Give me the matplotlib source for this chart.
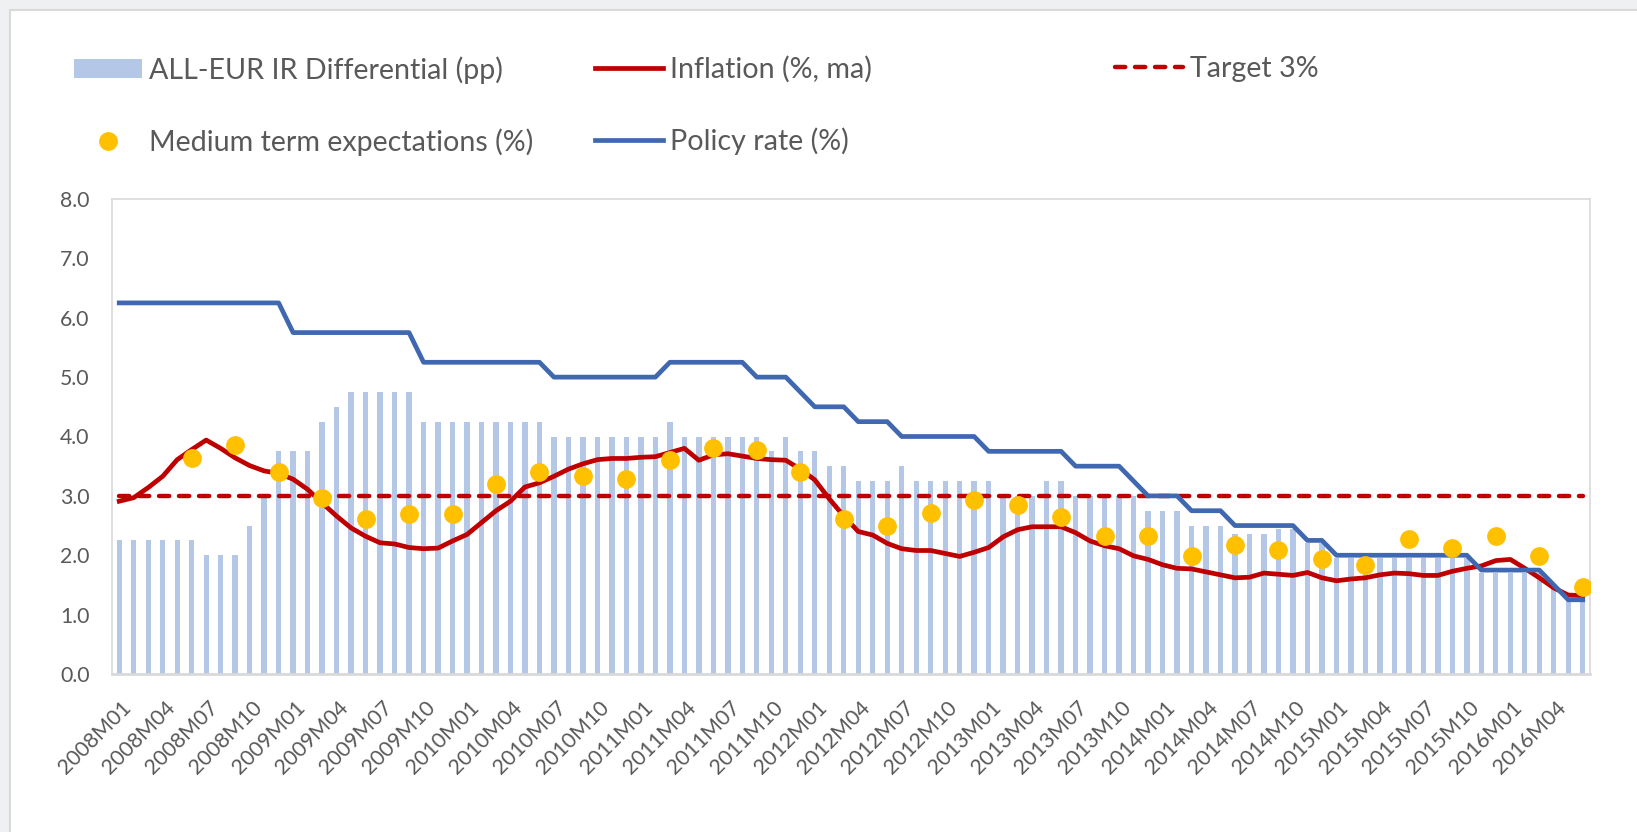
import numpy as np
import matplotlib.pyplot as plt
from matplotlib.patches import Patch, Rectangle
from matplotlib.lines import Line2D
from matplotlib.transforms import ScaledTranslation

plt.rcParams['font.family'] = ['Lato', 'DejaVu Sans']

# monthly categories 2008M01 .. 2016M06
months = [f'{y}M{m:02d}' for y in range(2008, 2017) for m in range(1, 13)][:102]

# ALL-EUR interest rate differential (pp), bars
ir_diff = [2.25, 2.25, 2.25, 2.25, 2.25, 2.25, 2.0, 2.0, 2.0, 2.5,
           3.0, 3.75, 3.75, 3.75, 4.25, 4.5, 4.75, 4.75, 4.75, 4.75,
           4.75, 4.25, 4.25, 4.25, 4.25, 4.25, 4.25, 4.25, 4.25, 4.25,
           4.0, 4.0, 4.0, 4.0, 4.0, 4.0, 4.0, 4.0, 4.25, 4.0,
           4.0, 4.0, 4.0, 4.0, 4.0, 3.75, 4.0, 3.75, 3.75, 3.5,
           3.5, 3.25, 3.25, 3.25, 3.5, 3.25, 3.25, 3.25, 3.25, 3.25,
           3.25, 3.0, 3.0, 3.0, 3.25, 3.25, 3.0, 3.0, 3.0, 3.0,
           3.0, 2.75, 2.75, 2.75, 2.5, 2.5, 2.5, 2.35, 2.35, 2.35,
           2.45, 2.45, 2.2, 2.2, 1.95, 1.95, 1.95, 1.95, 1.95, 1.95,
           1.95, 1.95, 1.95, 1.95, 1.7, 1.7, 1.7, 1.7, 1.7, 1.5,
           1.25, 1.25]

# inflation, moving average (%)
inflation = [2.91, 2.97, 3.14, 3.33, 3.61, 3.78, 3.94, 3.80, 3.64, 3.51,
             3.42, 3.38, 3.28, 3.11, 2.88, 2.66, 2.46, 2.32, 2.21, 2.19,
             2.13, 2.11, 2.12, 2.24, 2.35, 2.55, 2.75, 2.91, 3.15, 3.22,
             3.33, 3.45, 3.54, 3.61, 3.63, 3.63, 3.65, 3.66, 3.73, 3.80,
             3.60, 3.69, 3.71, 3.67, 3.63, 3.61, 3.60, 3.45, 3.27, 2.95,
             2.66, 2.40, 2.34, 2.20, 2.11, 2.08, 2.08, 2.03, 1.98, 2.05,
             2.13, 2.31, 2.43, 2.48, 2.48, 2.48, 2.38, 2.24, 2.16, 2.11,
             1.99, 1.93, 1.84, 1.78, 1.77, 1.72, 1.67, 1.62, 1.63, 1.70,
             1.68, 1.66, 1.71, 1.62, 1.57, 1.60, 1.62, 1.67, 1.70, 1.69,
             1.66, 1.66, 1.73, 1.78, 1.82, 1.91, 1.93, 1.78, 1.62, 1.45,
             1.33, 1.32]

# policy rate (%)
policy = [6.25, 6.25, 6.25, 6.25, 6.25, 6.25, 6.25, 6.25, 6.25, 6.25,
          6.25, 6.25, 5.75, 5.75, 5.75, 5.75, 5.75, 5.75, 5.75, 5.75,
          5.75, 5.25, 5.25, 5.25, 5.25, 5.25, 5.25, 5.25, 5.25, 5.25,
          5.0, 5.0, 5.0, 5.0, 5.0, 5.0, 5.0, 5.0, 5.25, 5.25,
          5.25, 5.25, 5.25, 5.25, 5.0, 5.0, 5.0, 4.75, 4.5, 4.5,
          4.5, 4.25, 4.25, 4.25, 4.0, 4.0, 4.0, 4.0, 4.0, 4.0,
          3.75, 3.75, 3.75, 3.75, 3.75, 3.75, 3.5, 3.5, 3.5, 3.5,
          3.25, 3.0, 3.0, 3.0, 2.75, 2.75, 2.75, 2.5, 2.5, 2.5,
          2.5, 2.5, 2.25, 2.25, 2.0, 2.0, 2.0, 2.0, 2.0, 2.0,
          2.0, 2.0, 2.0, 2.0, 1.75, 1.75, 1.75, 1.75, 1.75, 1.5,
          1.25, 1.25]

# medium term expectations (%), quarterly: 2008M06, 2008M09, ...
exp_months = months[5::3]
expectations = [3.63, 3.86, 3.41, 2.96, 2.61, 2.69, 2.69, 3.20, 3.41, 3.33,
                3.28, 3.60, 3.80, 3.77, 3.41, 2.61, 2.50, 2.71, 2.93, 2.85,
                2.64, 2.32, 2.32, 1.99, 2.18, 2.09, 1.94, 1.84, 2.28, 2.12,
                2.32, 1.99, 1.46]

target = 3.0

bar_col = '#b4c7e7'
red = '#c00000'
blue = '#4068b0'
gold = '#ffc000'
grey_txt = '#595959'

W, H = 1637, 832
fig = plt.figure(figsize=(W / 100, H / 100), dpi=100)
fig.patch.set_facecolor('#eef0f1')
fig.add_artist(Rectangle((10 / W, -0.1), 1.2, 1.1 - 10 / H, transform=fig.transFigure,
                         facecolor='white', edgecolor='#d9d9d9', lw=1.5, zorder=0))

ax = fig.add_axes([112 / W, 1 - 674 / H, (1590 - 112) / W, (674 - 199) / H])

x = np.arange(len(months))
xe = [months.index(m) for m in exp_months]

ax.bar(x, ir_diff, width=0.37, color=bar_col, zorder=1)
ax.plot(x, np.full(len(x), target), color=red, lw=3.2, ls=(0, (2.3, 2.2)),
        dash_capstyle='round', zorder=2)
ax.plot(x, inflation, color=red, lw=3.4, solid_joinstyle='round', zorder=3)
ax.plot(x, policy, color=blue, lw=3.4, solid_joinstyle='round', zorder=4)
ax.plot(xe, expectations, 'o', color=gold, ms=12.5, zorder=5)

ax.set_xlim(-0.5, len(x) - 0.5)
ax.set_ylim(0, 8)
ax.set_yticks(np.arange(0, 9, 1))
ax.set_yticklabels([f'{v:.1f}' for v in range(9)])
ax.set_xticks(x[::3])
ax.set_xticklabels(months[::3], rotation=45, ha='right', va='center',
                   rotation_mode='anchor')
ax.tick_params(axis='y', length=0, pad=16, labelsize=15.3, labelcolor=grey_txt)
ax.tick_params(axis='x', length=0, pad=22, labelsize=15.3, labelcolor=grey_txt)
shift = ScaledTranslation(9 / 100, 0, fig.dpi_scale_trans)
for lab in ax.get_xticklabels():
    lab.set_transform(lab.get_transform() + shift)

for s in ax.spines.values():
    s.set_color('#d9d9d9')
    s.set_linewidth(1.2)
ax.spines['bottom'].set_linewidth(2)

h_bar = Patch(facecolor=bar_col)
h_exp = Line2D([], [], marker='o', ls='', color=gold, ms=12.5)
h_inf = Line2D([], [], color=red, lw=3.4)
h_pol = Line2D([], [], color=blue, lw=3.4)
h_tgt = Line2D([], [], color=red, lw=3.2, ls=(0, (2.3, 2.2)), dash_capstyle='round')

leg_kw = dict(loc='upper left', frameon=False, fontsize=20.6, borderpad=0,
              borderaxespad=0, handlelength=2.36, handleheight=0.62,
              handletextpad=0.25, labelspacing=1.55, labelcolor=grey_txt,
              numpoints=1, bbox_transform=fig.transFigure)
top = 1 - 56 / H
fig.legend([h_bar, h_exp], ['ALL-EUR IR Differential (pp)', 'Medium term expectations (%)'],
           bbox_to_anchor=(74 / W, top), **leg_kw)
fig.legend([h_inf, h_pol], ['Inflation (%, ma)', 'Policy rate (%)'],
           bbox_to_anchor=(595 / W, top), **leg_kw)
fig.legend([h_tgt], ['Target 3%'], bbox_to_anchor=(1115 / W, top), **leg_kw)

fig.savefig('out.png', dpi=100, facecolor=fig.get_facecolor())
